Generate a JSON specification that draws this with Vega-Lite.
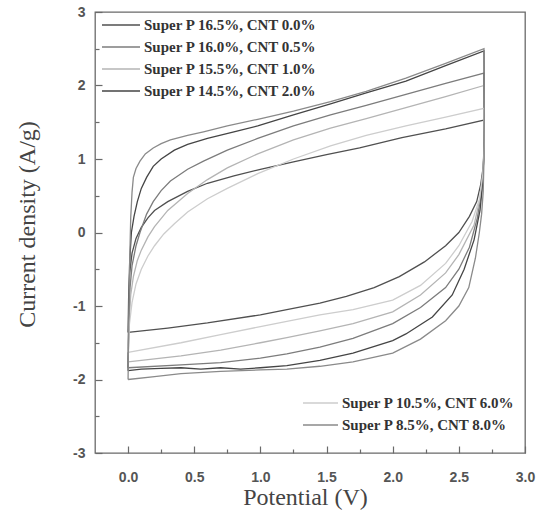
{
"$schema": "https://vega.github.io/schema/vega-lite/v6.json",
"width": 430, "height": 441,
"autosize": "none",
"padding": {"left": 95, "top": 12, "right": 21, "bottom": 69},
"background": "white",
"config": {"view": {"stroke": "#6a6a6a", "strokeWidth": 1.3}},
"data": {"values": [
{"s":"Super P 16.5%, CNT 0.0%","o":1,"v":0,"i":-1.36},{"s":"Super P 16.5%, CNT 0.0%","o":2,"v":0.004,"i":-0.9},{"s":"Super P 16.5%, CNT 0.0%","o":3,"v":0.012,"i":-0.55},{"s":"Super P 16.5%, CNT 0.0%","o":4,"v":0.03,"i":-0.28},{"s":"Super P 16.5%, CNT 0.0%","o":5,"v":0.06,"i":-0.08},{"s":"Super P 16.5%, CNT 0.0%","o":6,"v":0.1,"i":0.07},{"s":"Super P 16.5%, CNT 0.0%","o":7,"v":0.15,"i":0.2},{"s":"Super P 16.5%, CNT 0.0%","o":8,"v":0.2,"i":0.3},{"s":"Super P 16.5%, CNT 0.0%","o":9,"v":0.3,"i":0.42},{"s":"Super P 16.5%, CNT 0.0%","o":10,"v":0.45,"i":0.56},{"s":"Super P 16.5%, CNT 0.0%","o":11,"v":0.6,"i":0.67},{"s":"Super P 16.5%, CNT 0.0%","o":12,"v":0.8,"i":0.77},{"s":"Super P 16.5%, CNT 0.0%","o":13,"v":1.0,"i":0.86},{"s":"Super P 16.5%, CNT 0.0%","o":14,"v":1.25,"i":0.96},{"s":"Super P 16.5%, CNT 0.0%","o":15,"v":1.5,"i":1.06},{"s":"Super P 16.5%, CNT 0.0%","o":16,"v":1.75,"i":1.15},{"s":"Super P 16.5%, CNT 0.0%","o":17,"v":2.07,"i":1.29},{"s":"Super P 16.5%, CNT 0.0%","o":18,"v":2.4,"i":1.41},{"s":"Super P 16.5%, CNT 0.0%","o":19,"v":2.69,"i":1.53},{"s":"Super P 16.5%, CNT 0.0%","o":20,"v":2.692,"i":1.2},{"s":"Super P 16.5%, CNT 0.0%","o":21,"v":2.685,"i":0.9},{"s":"Super P 16.5%, CNT 0.0%","o":22,"v":2.665,"i":0.65},{"s":"Super P 16.5%, CNT 0.0%","o":23,"v":2.635,"i":0.42},{"s":"Super P 16.5%, CNT 0.0%","o":24,"v":2.58,"i":0.22},{"s":"Super P 16.5%, CNT 0.0%","o":25,"v":2.5,"i":0.0},{"s":"Super P 16.5%, CNT 0.0%","o":26,"v":2.4,"i":-0.18},{"s":"Super P 16.5%, CNT 0.0%","o":27,"v":2.24,"i":-0.4},{"s":"Super P 16.5%, CNT 0.0%","o":28,"v":2.05,"i":-0.6},{"s":"Super P 16.5%, CNT 0.0%","o":29,"v":1.86,"i":-0.75},{"s":"Super P 16.5%, CNT 0.0%","o":30,"v":1.65,"i":-0.87},{"s":"Super P 16.5%, CNT 0.0%","o":31,"v":1.45,"i":-0.96},{"s":"Super P 16.5%, CNT 0.0%","o":32,"v":1.2,"i":-1.05},{"s":"Super P 16.5%, CNT 0.0%","o":33,"v":1.0,"i":-1.12},{"s":"Super P 16.5%, CNT 0.0%","o":34,"v":0.6,"i":-1.23},{"s":"Super P 16.5%, CNT 0.0%","o":35,"v":0.3,"i":-1.3},{"s":"Super P 16.5%, CNT 0.0%","o":36,"v":0,"i":-1.36},

{"s":"Super P 16.0%, CNT 0.5%","o":1,"v":0,"i":-1.84},{"s":"Super P 16.0%, CNT 0.5%","o":2,"v":0.006,"i":-1.2},{"s":"Super P 16.0%, CNT 0.5%","o":3,"v":0.015,"i":-0.75},{"s":"Super P 16.0%, CNT 0.5%","o":4,"v":0.03,"i":-0.45},{"s":"Super P 16.0%, CNT 0.5%","o":5,"v":0.06,"i":-0.18},{"s":"Super P 16.0%, CNT 0.5%","o":6,"v":0.09,"i":0.0},{"s":"Super P 16.0%, CNT 0.5%","o":7,"v":0.14,"i":0.25},{"s":"Super P 16.0%, CNT 0.5%","o":8,"v":0.19,"i":0.42},{"s":"Super P 16.0%, CNT 0.5%","o":9,"v":0.25,"i":0.57},{"s":"Super P 16.0%, CNT 0.5%","o":10,"v":0.32,"i":0.7},{"s":"Super P 16.0%, CNT 0.5%","o":11,"v":0.45,"i":0.86},{"s":"Super P 16.0%, CNT 0.5%","o":12,"v":0.57,"i":0.97},{"s":"Super P 16.0%, CNT 0.5%","o":13,"v":0.75,"i":1.12},{"s":"Super P 16.0%, CNT 0.5%","o":14,"v":0.98,"i":1.28},{"s":"Super P 16.0%, CNT 0.5%","o":15,"v":1.25,"i":1.45},{"s":"Super P 16.0%, CNT 0.5%","o":16,"v":1.53,"i":1.6},{"s":"Super P 16.0%, CNT 0.5%","o":17,"v":1.8,"i":1.73},{"s":"Super P 16.0%, CNT 0.5%","o":18,"v":2.1,"i":1.88},{"s":"Super P 16.0%, CNT 0.5%","o":19,"v":2.4,"i":2.03},{"s":"Super P 16.0%, CNT 0.5%","o":20,"v":2.69,"i":2.17},{"s":"Super P 16.0%, CNT 0.5%","o":21,"v":2.692,"i":1.5},{"s":"Super P 16.0%, CNT 0.5%","o":22,"v":2.688,"i":1.0},{"s":"Super P 16.0%, CNT 0.5%","o":23,"v":2.675,"i":0.6},{"s":"Super P 16.0%, CNT 0.5%","o":24,"v":2.64,"i":0.2},{"s":"Super P 16.0%, CNT 0.5%","o":25,"v":2.58,"i":-0.2},{"s":"Super P 16.0%, CNT 0.5%","o":26,"v":2.5,"i":-0.5},{"s":"Super P 16.0%, CNT 0.5%","o":27,"v":2.4,"i":-0.75},{"s":"Super P 16.0%, CNT 0.5%","o":28,"v":2.21,"i":-1.02},{"s":"Super P 16.0%, CNT 0.5%","o":29,"v":2.0,"i":-1.24},{"s":"Super P 16.0%, CNT 0.5%","o":30,"v":1.7,"i":-1.44},{"s":"Super P 16.0%, CNT 0.5%","o":31,"v":1.45,"i":-1.56},{"s":"Super P 16.0%, CNT 0.5%","o":32,"v":1.2,"i":-1.65},{"s":"Super P 16.0%, CNT 0.5%","o":33,"v":1.0,"i":-1.71},{"s":"Super P 16.0%, CNT 0.5%","o":34,"v":0.7,"i":-1.77},{"s":"Super P 16.0%, CNT 0.5%","o":35,"v":0.4,"i":-1.8},{"s":"Super P 16.0%, CNT 0.5%","o":36,"v":0,"i":-1.84},

{"s":"Super P 15.5%, CNT 1.0%","o":1,"v":0,"i":-1.76},{"s":"Super P 15.5%, CNT 1.0%","o":2,"v":0.008,"i":-1.2},{"s":"Super P 15.5%, CNT 1.0%","o":3,"v":0.02,"i":-0.85},{"s":"Super P 15.5%, CNT 1.0%","o":4,"v":0.04,"i":-0.6},{"s":"Super P 15.5%, CNT 1.0%","o":5,"v":0.07,"i":-0.38},{"s":"Super P 15.5%, CNT 1.0%","o":6,"v":0.1,"i":-0.24},{"s":"Super P 15.5%, CNT 1.0%","o":7,"v":0.15,"i":-0.06},{"s":"Super P 15.5%, CNT 1.0%","o":8,"v":0.2,"i":0.08},{"s":"Super P 15.5%, CNT 1.0%","o":9,"v":0.3,"i":0.3},{"s":"Super P 15.5%, CNT 1.0%","o":10,"v":0.45,"i":0.53},{"s":"Super P 15.5%, CNT 1.0%","o":11,"v":0.6,"i":0.72},{"s":"Super P 15.5%, CNT 1.0%","o":12,"v":0.75,"i":0.88},{"s":"Super P 15.5%, CNT 1.0%","o":13,"v":0.98,"i":1.07},{"s":"Super P 15.5%, CNT 1.0%","o":14,"v":1.25,"i":1.26},{"s":"Super P 15.5%, CNT 1.0%","o":15,"v":1.53,"i":1.42},{"s":"Super P 15.5%, CNT 1.0%","o":16,"v":1.8,"i":1.55},{"s":"Super P 15.5%, CNT 1.0%","o":17,"v":2.1,"i":1.7},{"s":"Super P 15.5%, CNT 1.0%","o":18,"v":2.4,"i":1.85},{"s":"Super P 15.5%, CNT 1.0%","o":19,"v":2.69,"i":2.0},{"s":"Super P 15.5%, CNT 1.0%","o":20,"v":2.692,"i":1.4},{"s":"Super P 15.5%, CNT 1.0%","o":21,"v":2.686,"i":0.9},{"s":"Super P 15.5%, CNT 1.0%","o":22,"v":2.665,"i":0.5},{"s":"Super P 15.5%, CNT 1.0%","o":23,"v":2.615,"i":0.1},{"s":"Super P 15.5%, CNT 1.0%","o":24,"v":2.5,"i":-0.3},{"s":"Super P 15.5%, CNT 1.0%","o":25,"v":2.4,"i":-0.55},{"s":"Super P 15.5%, CNT 1.0%","o":26,"v":2.21,"i":-0.85},{"s":"Super P 15.5%, CNT 1.0%","o":27,"v":2.0,"i":-1.08},{"s":"Super P 15.5%, CNT 1.0%","o":28,"v":1.7,"i":-1.24},{"s":"Super P 15.5%, CNT 1.0%","o":29,"v":1.45,"i":-1.34},{"s":"Super P 15.5%, CNT 1.0%","o":30,"v":1.2,"i":-1.43},{"s":"Super P 15.5%, CNT 1.0%","o":31,"v":1.0,"i":-1.5},{"s":"Super P 15.5%, CNT 1.0%","o":32,"v":0.7,"i":-1.6},{"s":"Super P 15.5%, CNT 1.0%","o":33,"v":0.4,"i":-1.68},{"s":"Super P 15.5%, CNT 1.0%","o":34,"v":0,"i":-1.76},

{"s":"Super P 14.5%, CNT 2.0%","o":1,"v":0,"i":-1.88},{"s":"Super P 14.5%, CNT 2.0%","o":2,"v":0.005,"i":-1.0},{"s":"Super P 14.5%, CNT 2.0%","o":3,"v":0.012,"i":-0.4},{"s":"Super P 14.5%, CNT 2.0%","o":4,"v":0.025,"i":0.0},{"s":"Super P 14.5%, CNT 2.0%","o":5,"v":0.045,"i":0.22},{"s":"Super P 14.5%, CNT 2.0%","o":6,"v":0.07,"i":0.42},{"s":"Super P 14.5%, CNT 2.0%","o":7,"v":0.1,"i":0.6},{"s":"Super P 14.5%, CNT 2.0%","o":8,"v":0.14,"i":0.75},{"s":"Super P 14.5%, CNT 2.0%","o":9,"v":0.19,"i":0.9},{"s":"Super P 14.5%, CNT 2.0%","o":10,"v":0.25,"i":1.0},{"s":"Super P 14.5%, CNT 2.0%","o":11,"v":0.35,"i":1.12},{"s":"Super P 14.5%, CNT 2.0%","o":12,"v":0.45,"i":1.2},{"s":"Super P 14.5%, CNT 2.0%","o":13,"v":0.6,"i":1.28},{"s":"Super P 14.5%, CNT 2.0%","o":14,"v":0.8,"i":1.37},{"s":"Super P 14.5%, CNT 2.0%","o":15,"v":0.98,"i":1.45},{"s":"Super P 14.5%, CNT 2.0%","o":16,"v":1.25,"i":1.6},{"s":"Super P 14.5%, CNT 2.0%","o":17,"v":1.53,"i":1.75},{"s":"Super P 14.5%, CNT 2.0%","o":18,"v":1.8,"i":1.9},{"s":"Super P 14.5%, CNT 2.0%","o":19,"v":2.1,"i":2.06},{"s":"Super P 14.5%, CNT 2.0%","o":20,"v":2.4,"i":2.27},{"s":"Super P 14.5%, CNT 2.0%","o":21,"v":2.69,"i":2.47},{"s":"Super P 14.5%, CNT 2.0%","o":22,"v":2.692,"i":1.8},{"s":"Super P 14.5%, CNT 2.0%","o":23,"v":2.69,"i":1.2},{"s":"Super P 14.5%, CNT 2.0%","o":24,"v":2.682,"i":0.7},{"s":"Super P 14.5%, CNT 2.0%","o":25,"v":2.66,"i":0.3},{"s":"Super P 14.5%, CNT 2.0%","o":26,"v":2.615,"i":-0.1},{"s":"Super P 14.5%, CNT 2.0%","o":27,"v":2.54,"i":-0.5},{"s":"Super P 14.5%, CNT 2.0%","o":28,"v":2.45,"i":-0.85},{"s":"Super P 14.5%, CNT 2.0%","o":29,"v":2.3,"i":-1.15},{"s":"Super P 14.5%, CNT 2.0%","o":30,"v":2.1,"i":-1.38},{"s":"Super P 14.5%, CNT 2.0%","o":31,"v":2.0,"i":-1.47},{"s":"Super P 14.5%, CNT 2.0%","o":32,"v":1.7,"i":-1.64},{"s":"Super P 14.5%, CNT 2.0%","o":33,"v":1.45,"i":-1.74},{"s":"Super P 14.5%, CNT 2.0%","o":34,"v":1.2,"i":-1.81},{"s":"Super P 14.5%, CNT 2.0%","o":35,"v":1.0,"i":-1.84},{"s":"Super P 14.5%, CNT 2.0%","o":36,"v":0.85,"i":-1.86},{"s":"Super P 14.5%, CNT 2.0%","o":37,"v":0.7,"i":-1.84},{"s":"Super P 14.5%, CNT 2.0%","o":38,"v":0.55,"i":-1.86},{"s":"Super P 14.5%, CNT 2.0%","o":39,"v":0.4,"i":-1.84},{"s":"Super P 14.5%, CNT 2.0%","o":40,"v":0.25,"i":-1.85},{"s":"Super P 14.5%, CNT 2.0%","o":41,"v":0.1,"i":-1.86},{"s":"Super P 14.5%, CNT 2.0%","o":42,"v":0,"i":-1.88},

{"s":"Super P 10.5%, CNT 6.0%","o":1,"v":0,"i":-1.63},{"s":"Super P 10.5%, CNT 6.0%","o":2,"v":0.01,"i":-1.25},{"s":"Super P 10.5%, CNT 6.0%","o":3,"v":0.03,"i":-0.95},{"s":"Super P 10.5%, CNT 6.0%","o":4,"v":0.06,"i":-0.7},{"s":"Super P 10.5%, CNT 6.0%","o":5,"v":0.1,"i":-0.5},{"s":"Super P 10.5%, CNT 6.0%","o":6,"v":0.15,"i":-0.32},{"s":"Super P 10.5%, CNT 6.0%","o":7,"v":0.2,"i":-0.18},{"s":"Super P 10.5%, CNT 6.0%","o":8,"v":0.27,"i":-0.02},{"s":"Super P 10.5%, CNT 6.0%","o":9,"v":0.35,"i":0.12},{"s":"Super P 10.5%, CNT 6.0%","o":10,"v":0.45,"i":0.28},{"s":"Super P 10.5%, CNT 6.0%","o":11,"v":0.6,"i":0.46},{"s":"Super P 10.5%, CNT 6.0%","o":12,"v":0.75,"i":0.6},{"s":"Super P 10.5%, CNT 6.0%","o":13,"v":0.98,"i":0.8},{"s":"Super P 10.5%, CNT 6.0%","o":14,"v":1.25,"i":1.0},{"s":"Super P 10.5%, CNT 6.0%","o":15,"v":1.53,"i":1.18},{"s":"Super P 10.5%, CNT 6.0%","o":16,"v":1.8,"i":1.32},{"s":"Super P 10.5%, CNT 6.0%","o":17,"v":2.1,"i":1.45},{"s":"Super P 10.5%, CNT 6.0%","o":18,"v":2.4,"i":1.57},{"s":"Super P 10.5%, CNT 6.0%","o":19,"v":2.69,"i":1.69},{"s":"Super P 10.5%, CNT 6.0%","o":20,"v":2.692,"i":1.2},{"s":"Super P 10.5%, CNT 6.0%","o":21,"v":2.682,"i":0.8},{"s":"Super P 10.5%, CNT 6.0%","o":22,"v":2.655,"i":0.45},{"s":"Super P 10.5%, CNT 6.0%","o":23,"v":2.6,"i":0.15},{"s":"Super P 10.5%, CNT 6.0%","o":24,"v":2.5,"i":-0.18},{"s":"Super P 10.5%, CNT 6.0%","o":25,"v":2.4,"i":-0.42},{"s":"Super P 10.5%, CNT 6.0%","o":26,"v":2.21,"i":-0.72},{"s":"Super P 10.5%, CNT 6.0%","o":27,"v":2.0,"i":-0.92},{"s":"Super P 10.5%, CNT 6.0%","o":28,"v":1.7,"i":-1.05},{"s":"Super P 10.5%, CNT 6.0%","o":29,"v":1.45,"i":-1.12},{"s":"Super P 10.5%, CNT 6.0%","o":30,"v":1.2,"i":-1.21},{"s":"Super P 10.5%, CNT 6.0%","o":31,"v":1.0,"i":-1.28},{"s":"Super P 10.5%, CNT 6.0%","o":32,"v":0.7,"i":-1.39},{"s":"Super P 10.5%, CNT 6.0%","o":33,"v":0.4,"i":-1.5},{"s":"Super P 10.5%, CNT 6.0%","o":34,"v":0,"i":-1.63},

{"s":"Super P 8.5%, CNT 8.0%","o":1,"v":0,"i":-2.0},{"s":"Super P 8.5%, CNT 8.0%","o":2,"v":0.005,"i":-1.2},{"s":"Super P 8.5%, CNT 8.0%","o":3,"v":0.012,"i":-0.4},{"s":"Super P 8.5%, CNT 8.0%","o":4,"v":0.02,"i":0.2},{"s":"Super P 8.5%, CNT 8.0%","o":5,"v":0.03,"i":0.55},{"s":"Super P 8.5%, CNT 8.0%","o":6,"v":0.04,"i":0.75},{"s":"Super P 8.5%, CNT 8.0%","o":7,"v":0.06,"i":0.87},{"s":"Super P 8.5%, CNT 8.0%","o":8,"v":0.09,"i":0.97},{"s":"Super P 8.5%, CNT 8.0%","o":9,"v":0.13,"i":1.07},{"s":"Super P 8.5%, CNT 8.0%","o":10,"v":0.19,"i":1.15},{"s":"Super P 8.5%, CNT 8.0%","o":11,"v":0.25,"i":1.21},{"s":"Super P 8.5%, CNT 8.0%","o":12,"v":0.32,"i":1.26},{"s":"Super P 8.5%, CNT 8.0%","o":13,"v":0.45,"i":1.32},{"s":"Super P 8.5%, CNT 8.0%","o":14,"v":0.57,"i":1.37},{"s":"Super P 8.5%, CNT 8.0%","o":15,"v":0.75,"i":1.45},{"s":"Super P 8.5%, CNT 8.0%","o":16,"v":0.98,"i":1.54},{"s":"Super P 8.5%, CNT 8.0%","o":17,"v":1.25,"i":1.65},{"s":"Super P 8.5%, CNT 8.0%","o":18,"v":1.53,"i":1.78},{"s":"Super P 8.5%, CNT 8.0%","o":19,"v":1.8,"i":1.92},{"s":"Super P 8.5%, CNT 8.0%","o":20,"v":2.1,"i":2.1},{"s":"Super P 8.5%, CNT 8.0%","o":21,"v":2.4,"i":2.3},{"s":"Super P 8.5%, CNT 8.0%","o":22,"v":2.69,"i":2.5},{"s":"Super P 8.5%, CNT 8.0%","o":23,"v":2.693,"i":1.6},{"s":"Super P 8.5%, CNT 8.0%","o":24,"v":2.69,"i":1.0},{"s":"Super P 8.5%, CNT 8.0%","o":25,"v":2.684,"i":0.55},{"s":"Super P 8.5%, CNT 8.0%","o":26,"v":2.672,"i":0.25},{"s":"Super P 8.5%, CNT 8.0%","o":27,"v":2.655,"i":0.0},{"s":"Super P 8.5%, CNT 8.0%","o":28,"v":2.625,"i":-0.35},{"s":"Super P 8.5%, CNT 8.0%","o":29,"v":2.575,"i":-0.75},{"s":"Super P 8.5%, CNT 8.0%","o":30,"v":2.5,"i":-1.0},{"s":"Super P 8.5%, CNT 8.0%","o":31,"v":2.4,"i":-1.2},{"s":"Super P 8.5%, CNT 8.0%","o":32,"v":2.21,"i":-1.45},{"s":"Super P 8.5%, CNT 8.0%","o":33,"v":2.0,"i":-1.64},{"s":"Super P 8.5%, CNT 8.0%","o":34,"v":1.7,"i":-1.76},{"s":"Super P 8.5%, CNT 8.0%","o":35,"v":1.45,"i":-1.82},{"s":"Super P 8.5%, CNT 8.0%","o":36,"v":1.2,"i":-1.86},{"s":"Super P 8.5%, CNT 8.0%","o":37,"v":1.0,"i":-1.87},{"s":"Super P 8.5%, CNT 8.0%","o":38,"v":0.7,"i":-1.89},{"s":"Super P 8.5%, CNT 8.0%","o":39,"v":0.4,"i":-1.92},{"s":"Super P 8.5%, CNT 8.0%","o":40,"v":0.2,"i":-1.96},{"s":"Super P 8.5%, CNT 8.0%","o":41,"v":0,"i":-2.0}
]},
"encoding": {
 "x": {"field": "v", "type": "quantitative",
  "scale": {"domain": [-0.25, 3.0], "nice": false, "zero": false},
  "axis": {"values": [0,0.25,0.5,0.75,1,1.25,1.5,1.75,2,2.25,2.5,2.75,3],
   "labelExpr": "abs(datum.value*2 - round(datum.value*2)) < 0.01 ? format(datum.value, '.1f') : ''",
   "tickSize": {"condition": {"test": "abs(datum.value*2 - round(datum.value*2)) < 0.01", "value": -7}, "value": -4},
   "tickColor": "#6a6a6a", "tickWidth": 1.2, "grid": false, "domain": false,
   "labelFlush": false, "labelOverlap": false, "labelPadding": 24,
   "labelFont": "Liberation Sans", "labelFontWeight": "bold", "labelFontSize": 14, "labelColor": "#555555",
   "title": "Potential (V)", "titleFont": "Liberation Serif", "titleFontWeight": "normal", "titleFontSize": 24, "titleColor": "#444444",
   "titleX": 210, "titleY": 44, "titleBaseline": "middle", "titleAlign": "center"}},
 "y": {"field": "i", "type": "quantitative",
  "scale": {"domain": [-3, 3], "nice": false, "zero": false},
  "axis": {"values": [-3,-2.5,-2,-1.5,-1,-0.5,0,0.5,1,1.5,2,2.5,3],
   "labelExpr": "datum.value % 1 == 0 ? toString(datum.value) : ''",
   "tickSize": {"condition": {"test": "datum.value % 1 == 0", "value": -7}, "value": -4},
   "tickColor": "#6a6a6a", "tickWidth": 1.2, "grid": false, "domain": false,
   "labelFlush": false, "labelOverlap": false, "labelPadding": 17,
   "labelFont": "Liberation Sans", "labelFontWeight": "bold", "labelFontSize": 14, "labelColor": "#555555",
   "title": "Current density (A/g)", "titleFont": "Liberation Serif", "titleFontWeight": "normal", "titleFontSize": 24, "titleColor": "#444444",
   "titleX": -68, "titleY": 212, "titleBaseline": "middle", "titleAlign": "center", "titleAngle": -90}},
 "order": {"field": "o", "type": "quantitative"}
},
"layer": [
 {"transform": [{"filter": {"field": "s", "oneOf": ["Super P 16.5%, CNT 0.0%","Super P 16.0%, CNT 0.5%","Super P 15.5%, CNT 1.0%","Super P 14.5%, CNT 2.0%"]}}],
  "mark": {"type": "line", "strokeWidth": 1.3, "interpolate": "linear"},
  "encoding": {"color": {"field": "s", "type": "nominal",
   "scale": {"domain": ["Super P 16.5%, CNT 0.0%","Super P 16.0%, CNT 0.5%","Super P 15.5%, CNT 1.0%","Super P 14.5%, CNT 2.0%"], "range": ["#505050","#7c7c7c","#b4b4b4","#454545"]},
   "legend": {"orient": "none", "legendX": 6, "legendY": 2, "title": null, "symbolType": "stroke", "symbolSize": 1444, "symbolStrokeWidth": 1.3, "clipHeight": 22, "rowPadding": 0, "padding": 0, "labelOffset": 3,
     "labelFont": "Liberation Serif", "labelFontWeight": "bold", "labelFontSize": 15, "labelColor": "#333333", "labelLimit": 400}}}},
 {"transform": [{"filter": {"field": "s", "oneOf": ["Super P 10.5%, CNT 6.0%","Super P 8.5%, CNT 8.0%"]}}],
  "mark": {"type": "line", "strokeWidth": 1.3, "interpolate": "linear"},
  "encoding": {"stroke": {"field": "s", "type": "nominal",
   "scale": {"domain": ["Super P 10.5%, CNT 6.0%","Super P 8.5%, CNT 8.0%"], "range": ["#cdcdcd","#8a8a8a"]},
   "legend": {"orient": "none", "legendX": 207, "legendY": 380, "title": null, "symbolType": "stroke", "symbolSize": 1225, "symbolStrokeWidth": 1.3, "clipHeight": 22, "rowPadding": 0, "padding": 0, "labelOffset": 3,
     "labelFont": "Liberation Serif", "labelFontWeight": "bold", "labelFontSize": 15, "labelColor": "#333333", "labelLimit": 400}}}}
]
}
